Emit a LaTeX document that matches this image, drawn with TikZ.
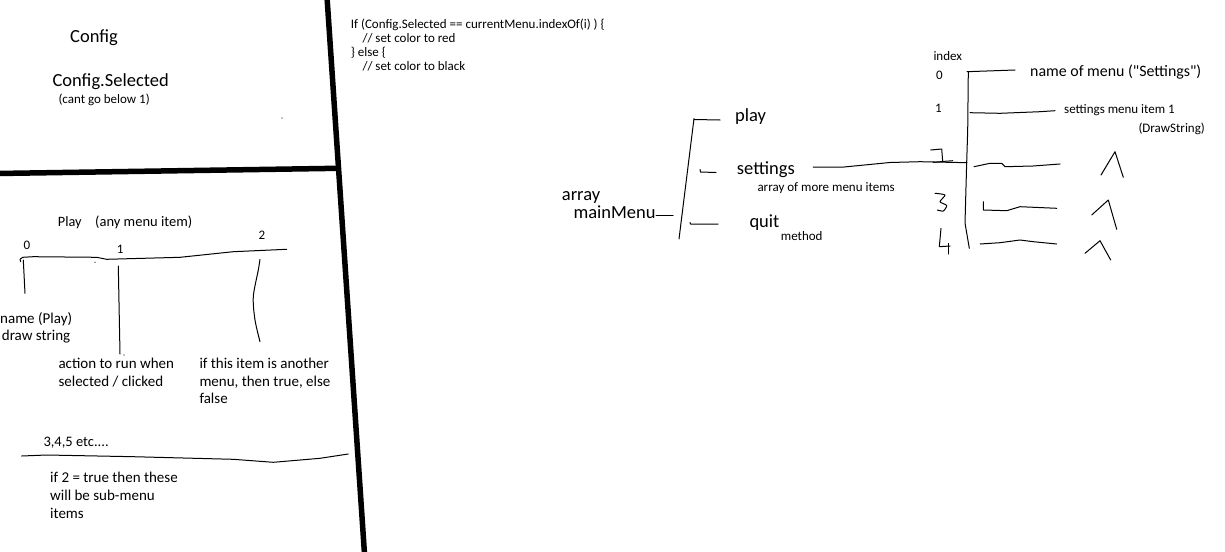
\documentclass[tikz,border=0pt]{standalone}
\usepackage{fontspec}
\setmainfont{Carlito}[Ligatures=TeXOff]
\begin{document}
\begin{tikzpicture}[x=1pt,y=-1pt,
  txt/.style={inner sep=0pt, anchor=base west, text=black},
  big/.style={txt, font=\fontsize{18.5}{22}\selectfont},
  mid/.style={txt, font=\fontsize{15}{18}\selectfont},
  sml/.style={txt, font=\fontsize{13}{15}\selectfont},
  pen/.style={line width=1pt, line join=round, line cap=round},
  heavy/.style={line width=5.5pt}]
\useasboundingbox (0,0) rectangle (1225,551);

% thick divider lines
\coordinate (vtop) at (327,-3);
\coordinate (vbot) at (364.5,554);
\coordinate (hl) at (-3,173.5);
\coordinate (hr) at (338,168.3);
\draw[heavy] (vtop) -- (vbot);
\draw[heavy] (hl) -- (hr);
\fill (282,118) circle (0.7);

% top-left panel
\node[big] (config) at (70,43) {Config};
\node[big] (cfgsel) at (52.3,86) {Config.Selected};
\node[sml] (cant) at (58.3,103.5) {(cant go below 1)};

% code
\node[sml] (c1) at (350.7,28.3) {If (Config.Selected == currentMenu.indexOf(i) ) \{};
\node[sml] (c2) at (362.3,42.7) {// set color to red};
\node[sml] (c3) at (350.7,56.7) {\} else \{};
\node[sml] (c4) at (362.3,70.7) {// set color to black};

% lower-left panel
\node[txt, font=\fontsize{14.3}{17}\selectfont] (playh) at (57.7,226) {Play};
\node[txt, font=\fontsize{14.5}{17}\selectfont] (anyitem) at (95,226) {(any menu item)};
\node[sml] (i0) at (23.3,249.3) {0};
\node[sml] (i1) at (116.7,253.3) {1};
\node[sml] (i2) at (258.3,239) {2};

\draw[pen] (20.7,261.7) -- (20,259.3) -- (22.7,257.3) -- (33.3,256.7) -- (96.7,257.3) -- (106.7,259.3) -- (180,257.3) -- (233.3,251.7) -- (286.7,249.3);
\fill (95,262.3) circle (0.6);
\coordinate (l0a) at (23.3,260); \coordinate (l0b) at (25,293.3);
\draw[pen] (l0a) -- (l0b);
\coordinate (l1a) at (118.3,266); \coordinate (l1b) at (120,354);
\draw[pen] (l1a) -- (l1b);
\fill (124,355) circle (0.6);
\draw[pen] plot[smooth] coordinates {(260,259.3) (258.3,270) (253.3,296.7) (255,320) (260,341.7)};

\node[mid] (nm1) at (0,323.3) {name (Play)};
\node[mid] (nm2) at (1.7,340.7) {draw string};
\node[mid] (ac1) at (58.3,368.3) {action to run when};
\node[mid] (ac2) at (58.3,386) {selected / clicked};
\node[mid] (if1) at (199.3,368.3) {if this item is another};
\node[mid] (if2) at (199.3,386) {menu, then true, else};
\node[mid] (if3) at (199.3,403.5) {false};

\node[txt, font=\fontsize{14.5}{17}\selectfont] (etc) at (43.3,446) {3,4,5 etc....};
\draw[pen] (21.7,456) -- (46.7,455) -- (133.3,456.7) -- (233.3,459.3) -- (273.3,462.3) -- (320,458.3) -- (348.3,454);
\node[mid] (s1) at (50,482.7) {if 2 = true then these};
\node[mid] (s2) at (50,500.7) {will be sub-menu};
\node[mid] (s3) at (50,518.3) {items};

% mainMenu array
\node[big] (arr) at (561.7,200) {array};
\node[big] (mm) at (573.3,218.3) {mainMenu};
\node[big] (play) at (735,121.7) {play};
\node[big] (settings) at (736.7,174) {settings};
\node[sml] (aom) at (757.3,191.7) {array of more menu items};
\node[big] (quit) at (749.3,227.3) {quit};
\node[sml] (meth) at (780.7,240) {method};

\draw[pen] (656,215) -- (673,215);
\draw[pen] (694,118.5) -- (679,239);
\draw[pen] (694,119.5) -- (720,120);
\draw[pen] (700,169.5) -- (700.5,172) -- (716,172.5);
\draw[pen] (690,222.5) -- (690.5,224) -- (718,224);
\draw[pen] (813,167) -- (844,167) -- (890,162.5) -- (920,161.7) -- (967,162.7);

% index column
\node[sml] (idx) at (933.3,60.7) {index};
\node[sml] (x0) at (936,79.3) {0};
\node[sml] (x1) at (935,112.7) {1};
\draw[pen] (930.7,150) -- (941.7,149) -- (942.7,161.7);
\draw[pen] (933,162.3) -- (952.7,160.7);
\draw[pen] plot[smooth, tension=0.4] coordinates {(935,193.3) (945,195) (940,201.7) (946.7,205.5) (943.3,211) (937.3,210)};
\draw[pen] (941,228.3) -- (939.3,246.7) -- (950,246);
\draw[pen] (948.3,243.3) -- (948.3,254);

\draw[pen] (968.3,71.7) -- (967.7,130) -- (966.7,161.7) -- (965,223) -- (969.3,248.3);
\draw[pen] (967,71.7) -- (1015,70);
\node[txt, font=\fontsize{15.9}{19}\selectfont] (nameofmenu) at (1030,76.7) {name of menu ("Settings")};
\draw[pen] (970,112.7) -- (1000,113.3) -- (1040,111.7) -- (1055,110.7);
\node[sml] (smi) at (1064,113.3) {settings menu item 1};
\node[sml] (ds) at (1138.3,132.7) {(DrawString)};
\draw[pen] (974,166.7) -- (990,163.3) -- (1001.7,163.3) -- (1005,166.7) -- (1033,166) -- (1060,164);
\draw[pen] (983.3,201.7) -- (983.3,210) -- (1006.7,210.7) -- (1020,206.7) -- (1056.7,208.3);
\draw[pen] (980,244) -- (1000,242.7) -- (1020,240) -- (1033.3,241.7) -- (1056.7,244);

% carets
\draw[pen] (1101,175) -- (1115,151.7) -- (1123.3,177.3);
\draw[pen] (1091.7,215) -- (1108.3,200) -- (1116.7,229.3);
\draw[pen] (1085,253.3) -- (1100,240.7) -- (1110.7,260);
\end{tikzpicture}
\end{document}
